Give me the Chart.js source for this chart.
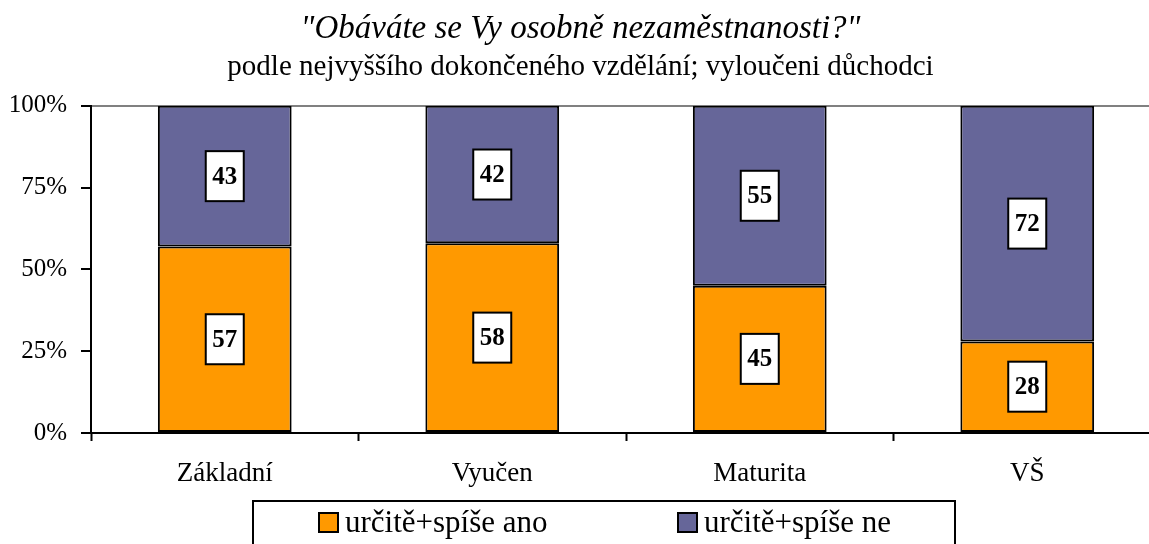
<!DOCTYPE html>
<html>
<head>
<meta charset="utf-8">
<script src="https://cdn.jsdelivr.net/npm/chart.js@4"></script>
<style>
  html, body { margin: 0; padding: 0; background: #fff; overflow: hidden; }
  #wrap { width: 1194px; height: 560px; position: relative; }
</style>
</head>
<body>
<div id="wrap"><canvas id="chart"></canvas></div>
<script>
// data
var categories = ["Základní", "Vyučen", "Maturita", "VŠ"];
var seriesNames = ["určitě+spíše ano", "určitě+spíše ne"];
var yesValues = [57, 58, 45, 28];
var noValues = [43, 42, 55, 72];
var yTicks = [0, 25, 50, 75, 100];

var orange = "#FF9900";
var purple = "#666699";
var serif = "'Liberation Serif', 'Times New Roman', serif";

// white numbered boxes in the middle of each segment
var valueBoxes = {
  id: "valueBoxes",
  afterDatasetsDraw: function(chart) {
    var ctx = chart.ctx;
    ctx.save();
    chart.data.datasets.forEach(function(ds, i) {
      var meta = chart.getDatasetMeta(i);
      meta.data.forEach(function(bar, j) {
        var cx = bar.x;
        var cy = (bar.y + bar.base) / 2;
        var w = 38, h = 50;
        ctx.fillStyle = "#fff";
        ctx.fillRect(cx - w / 2, cy - h / 2, w, h);
        ctx.strokeStyle = "#000";
        ctx.lineWidth = 2;
        ctx.strokeRect(cx - w / 2, cy - h / 2, w, h);
        ctx.fillStyle = "#000";
        ctx.font = "bold 25px " + serif;
        ctx.textAlign = "center";
        ctx.textBaseline = "middle";
        ctx.fillText(ds.data[j], cx, cy + 1);
      });
    });
    ctx.restore();
  }
};

// boxed legend below the axis
var boxLegend = {
  id: "boxLegend",
  afterDraw: function(chart) {
    var ctx = chart.ctx;
    var left = 253, top = 501, w = 702, h = 46;
    ctx.save();
    ctx.fillStyle = "#fff";
    ctx.fillRect(left, top, w, h);
    ctx.strokeStyle = "#000";
    ctx.lineWidth = 2;
    ctx.strokeRect(left, top, w, h);
    ctx.font = "31px " + serif;
    ctx.textBaseline = "middle";
    ctx.textAlign = "left";
    var starts = [318, 677];
    chart.data.datasets.forEach(function(ds, i) {
      var x = starts[i], y = top + 22;
      ctx.fillStyle = ds.backgroundColor;
      ctx.fillRect(x + 1, y - 10, 19, 19);
      ctx.strokeStyle = "#000";
      ctx.lineWidth = 2;
      ctx.strokeRect(x + 1, y - 10, 19, 19);
      ctx.fillStyle = "#000";
      ctx.fillText(ds.label, x + 27, y + 1);
    });
    ctx.restore();
  }
};

new Chart(document.getElementById("chart"), {
  type: "bar",
  data: {
    labels: categories,
    datasets: [{
      label: seriesNames[0],
      data: yesValues,
      backgroundColor: orange,
      borderColor: "#000",
      borderWidth: 2,
      borderSkipped: false
    }, {
      label: seriesNames[1],
      data: noValues,
      backgroundColor: purple,
      borderColor: "#000",
      borderWidth: 2,
      borderSkipped: false
    }]
  },
  options: {
    responsive: true,
    maintainAspectRatio: false,
    animation: false,
    layout: { padding: { left: 0, right: 33, top: 0, bottom: 67 } },
    datasets: { bar: { categoryPercentage: 1, barPercentage: 0.5 } },
    plugins: {
      legend: { display: false },
      tooltip: { enabled: false },
      title: {
        display: true,
        text: "\"Obáváte se Vy osobně nezaměstnanosti?\"",
        color: "#000",
        font: { family: serif, size: 33, style: "italic", weight: "normal", lineHeight: 1 },
        padding: { top: 13, bottom: 4 }
      },
      subtitle: {
        display: true,
        text: "podle nejvyššího dokončeného vzdělání; vyloučeni důchodci",
        color: "#000",
        font: { family: serif, size: 29, weight: "normal" },
        padding: { top: 0, bottom: 21 }
      }
    },
    scales: {
      x: {
        stacked: true,
        grid: { offset: true, drawOnChartArea: false, tickLength: 8, tickColor: "#000", tickWidth: 2 },
        border: { color: "#000", width: 2 },
        ticks: { color: "#000", font: { family: serif, size: 27 }, padding: 17 },
        afterFit: function(s) { s.height = 60; }
      },
      y: {
        stacked: true,
        min: 0,
        max: 100,
        afterBuildTicks: function(s) { s.ticks = yTicks.map(function(v) { return { value: v }; }); },
        grid: {
          color: function(c) { return c.tick && c.tick.value === 100 ? "#808080" : "rgba(0,0,0,0)"; },
          lineWidth: 2,
          tickLength: 10,
          tickColor: "#000",
          tickWidth: 2
        },
        border: { color: "#000", width: 2 },
        ticks: {
          color: "#000",
          font: { family: serif, size: 25 },
          padding: 14,
          callback: function(v) { return v + "%"; }
        },
        afterFit: function(s) { s.width = 91; }
      }
    }
  },
  plugins: [valueBoxes, boxLegend]
});
</script>
</body>
</html>
